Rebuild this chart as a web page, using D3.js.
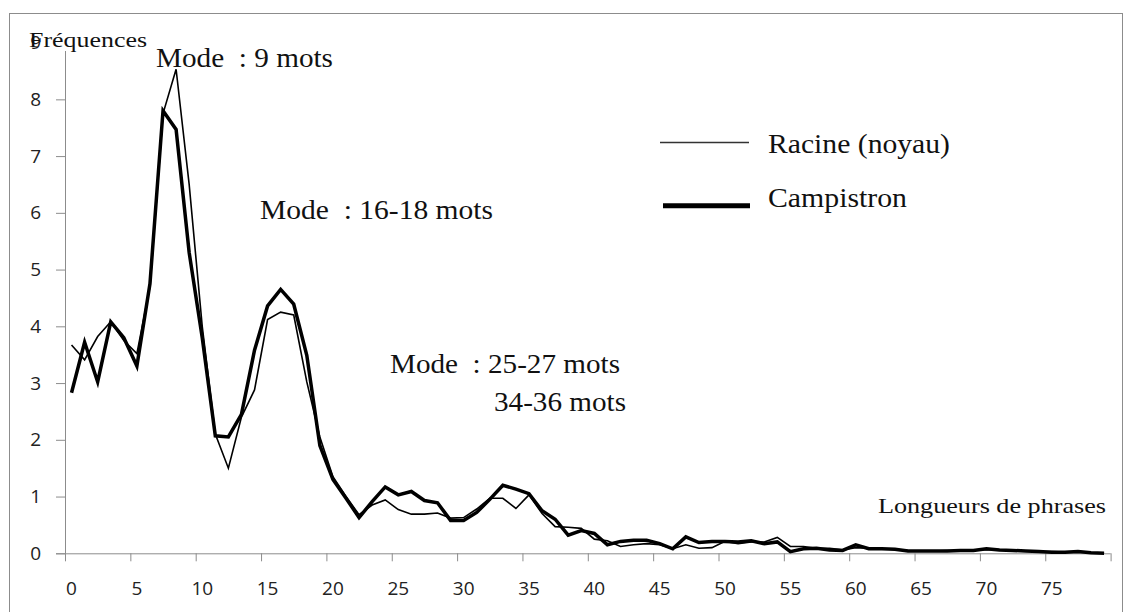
<!DOCTYPE html>
<html>
<head>
<meta charset="utf-8">
<script src="https://cdn.jsdelivr.net/npm/d3@7"></script>
<style>
  html, body { margin: 0; padding: 0; background: #fff; }
  svg { display: block; }
  .serif { font-family: "Liberation Serif", "DejaVu Serif", serif; fill: #111; white-space: pre; }
  .tick text { font-family: "Open Sans", "Noto Sans", sans-serif; font-size: 19px; fill: #222; }
</style>
</head>
<body>
<svg id="chart" width="1133" height="612"></svg>
<script>
// Sentence length (in words) on the category axis
const lengths = d3.range(0, 80);

// Frequency (%) of each sentence length
const racine = [
  3.67, 3.41, 3.82, 4.08, 3.75, 3.52, 4.70, 7.75, 8.53, 6.50,
  4.00, 2.10, 1.50, 2.40, 2.88, 4.12, 4.25, 4.20, 3.02, 2.05,
  1.35, 1.00, 0.68, 0.85, 0.94, 0.77, 0.69, 0.69, 0.71, 0.62,
  0.63, 0.78, 0.97, 0.97, 0.79, 1.03, 0.70, 0.47, 0.46, 0.44,
  0.25, 0.22, 0.12, 0.15, 0.17, 0.15, 0.08, 0.15, 0.09, 0.10,
  0.21, 0.17, 0.20, 0.20, 0.28, 0.12, 0.12, 0.09, 0.09, 0.06,
  0.10, 0.09, 0.08, 0.07, 0.05, 0.04, 0.04, 0.05, 0.04, 0.05,
  0.07, 0.06, 0.05, 0.04, 0.03, 0.03, 0.02, 0.03, 0.01, 0.00
];
const campistron = [
  2.83, 3.72, 3.02, 4.08, 3.80, 3.30, 4.75, 7.80, 7.47, 5.30,
  3.80, 2.07, 2.05, 2.45, 3.58, 4.36, 4.65, 4.39, 3.49, 1.90,
  1.30, 0.97, 0.63, 0.91, 1.17, 1.03, 1.09, 0.93, 0.89, 0.58,
  0.58, 0.72, 0.95, 1.20, 1.13, 1.05, 0.75, 0.60, 0.32, 0.40,
  0.35, 0.15, 0.21, 0.23, 0.23, 0.17, 0.08, 0.29, 0.19, 0.21,
  0.21, 0.20, 0.22, 0.17, 0.20, 0.03, 0.08, 0.09, 0.06, 0.05,
  0.15, 0.08, 0.08, 0.07, 0.04, 0.04, 0.04, 0.04, 0.05, 0.05,
  0.08, 0.06, 0.05, 0.04, 0.03, 0.02, 0.02, 0.03, 0.01, 0.00
];

const yTicks = d3.range(0, 10);
const xTickEdges = d3.range(0, 81, 5);
const xTickLabels = d3.range(0, 80, 5);

const seriesNames = ["Racine (noyau)", "Campistron"];
const annotations = [
  { text: "Mode  : 9 mots", x: 156, y: 66.5, w: 177 },
  { text: "Mode  : 16-18 mots", x: 260, y: 218.5, w: 233 },
  { text: "Mode  : 25-27 mots", x: 390, y: 373, w: 230 },
  { text: "34-36 mots", x: 494, y: 410.5, w: 132 }
];

const svg = d3.select("#chart");
const plot = { left: 65, right: 1110.6, top: 42.6, bottom: 553.3 };

// Outer chart frame
svg.append("rect")
  .attr("x", 9.5).attr("y", 13.5)
  .attr("width", 1113).attr("height", 620)
  .attr("fill", "none").attr("stroke", "#8c8c8c").attr("stroke-width", 1);

const xBand = d3.scaleBand().domain(lengths).range([plot.left, plot.right]).padding(0);
const xEdge = d3.scaleLinear().domain([0, 80]).range([plot.left, plot.right]);
const y = d3.scaleLinear().domain([0, 9]).range([plot.bottom, plot.top]);
const cx = d => xBand(d) + xBand.bandwidth() / 2;

// Y axis
const gy = svg.append("g").attr("transform", `translate(${plot.left},0)`)
  .call(d3.axisLeft(y).tickValues(yTicks).tickSize(9).tickPadding(15).tickFormat(d3.format("d")));
gy.selectAll("path, line").attr("stroke", "#8c8c8c");

// X axis: tick marks on category boundaries
const gx = svg.append("g").attr("transform", `translate(0,${plot.bottom})`)
  .call(d3.axisBottom(xEdge).tickValues(xTickEdges).tickSize(8).tickFormat(""));
gx.selectAll("path, line").attr("stroke", "#8c8c8c");
gx.select("path").attr("d", `M${plot.left},0.5H${plot.right}`);

// X axis: labels centred on categories
const gxl = svg.append("g").attr("transform", `translate(0,${plot.bottom})`)
  .call(d3.axisBottom(xBand).tickValues(xTickLabels).tickSize(0).tickPadding(28));
gxl.select("path").remove();

// Series lines
const line = d3.line().x((d, i) => cx(lengths[i])).y(d => y(d));
svg.append("path").datum(racine)
  .attr("d", line).attr("fill", "none")
  .attr("stroke", "#000").attr("stroke-width", 1.6);
svg.append("path").datum(campistron)
  .attr("d", line).attr("fill", "none")
  .attr("stroke", "#000").attr("stroke-width", 3.5);

// Axis titles
svg.append("rect").attr("x", 46).attr("y", 28).attr("width", 104).attr("height", 23).attr("fill", "#fff");
svg.append("text").attr("class", "serif")
  .attr("x", 29).attr("y", 46.5).attr("font-size", 21)
  .attr("textLength", 118).attr("lengthAdjust", "spacingAndGlyphs")
  .text("Fréquences");
svg.append("text").attr("class", "serif")
  .attr("x", 878).attr("y", 513).attr("font-size", 22)
  .attr("textLength", 228).attr("lengthAdjust", "spacingAndGlyphs")
  .text("Longueurs de phrases");

// Mode annotations
svg.selectAll("text.note").data(annotations).join("text")
  .attr("class", "serif note")
  .attr("x", d => d.x).attr("y", d => d.y).attr("font-size", 27)
  .attr("textLength", d => d.w).attr("lengthAdjust", "spacingAndGlyphs")
  .text(d => d.text);

// Legend
const legend = [
  { name: seriesNames[0], x1: 660, x2: 749, ly: 142.5, sw: 1.5, color: "#333", ty: 153.3, w: 182 },
  { name: seriesNames[1], x1: 663, x2: 750, ly: 205.7, sw: 5, color: "#000", ty: 206.5, w: 139 }
];
legend.forEach(d => {
  svg.append("line").attr("x1", d.x1).attr("x2", d.x2).attr("y1", d.ly).attr("y2", d.ly)
    .attr("stroke", d.color).attr("stroke-width", d.sw);
  svg.append("text").attr("class", "serif")
    .attr("x", 768).attr("y", d.ty).attr("font-size", 27)
    .attr("textLength", d.w).attr("lengthAdjust", "spacingAndGlyphs")
    .text(d.name);
});
</script>
</body>
</html>
